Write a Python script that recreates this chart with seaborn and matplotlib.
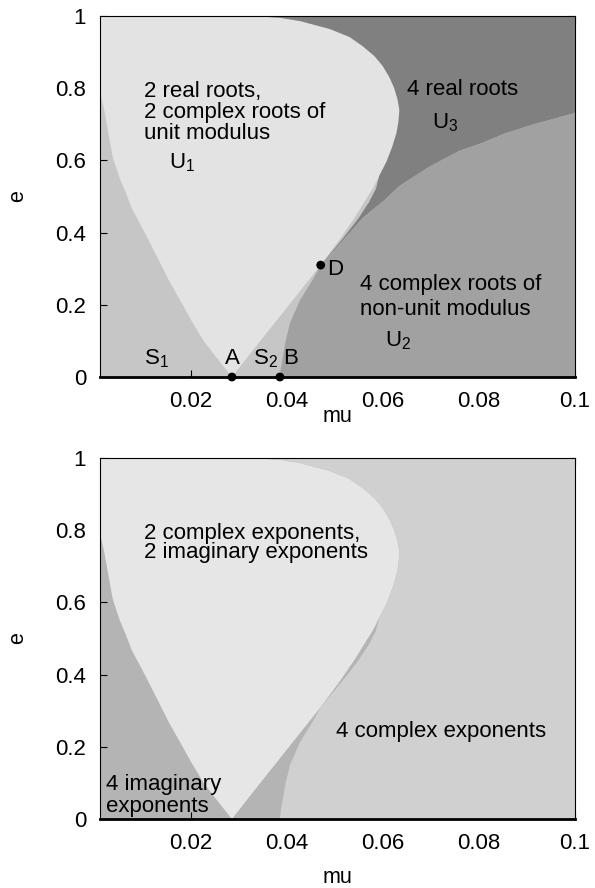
import matplotlib
matplotlib.use("Agg")
import matplotlib.pyplot as plt
import seaborn as sns
import pandas as pd

# ---- boundary curves (mu, e) ----
# left boundary of the light region (from A up to the left edge)
L_mu = [0.0285, 0.0252, 0.0226, 0.0201, 0.0178, 0.0153, 0.0130, 0.0109, 0.0095,
        0.0076, 0.0064, 0.0051, 0.0037, 0.0027, 0.0018, 0.0010]
L_e = [0.000, 0.055, 0.100, 0.155, 0.210, 0.269, 0.330, 0.385, 0.421,
       0.468, 0.510, 0.551, 0.607, 0.679, 0.745, 0.790]
# right boundary of the light region (from A, through D, up to the top)
R_mu = [0.0285, 0.0331, 0.0379, 0.0425, 0.0470, 0.0509, 0.0540, 0.0561, 0.0578,
        0.0592, 0.0607, 0.0619, 0.0628, 0.0632, 0.0634, 0.0630, 0.0623, 0.0613,
        0.0599, 0.0582, 0.0557, 0.0530, 0.0489, 0.0427, 0.0385, 0.0325]
R_e = [0.000, 0.078, 0.158, 0.235, 0.310, 0.380, 0.440, 0.485, 0.521,
       0.557, 0.596, 0.637, 0.676, 0.706, 0.740, 0.770, 0.801, 0.831,
       0.862, 0.889, 0.917, 0.942, 0.964, 0.986, 0.995, 1.000]
# boundary from B up to D
E_mu = [0.0385, 0.0387, 0.0391, 0.0397, 0.0406, 0.0427, 0.0454, 0.0470]
E_e = [0.000, 0.025, 0.055, 0.100, 0.150, 0.213, 0.271, 0.310]
# thin sliver boundary above D (left edge of U3) until it joins the light region
F_mu = [0.0470, 0.0514, 0.0549, 0.0571, 0.0585]
F_e = [0.310, 0.380, 0.440, 0.485, 0.521]
# boundary between U2 and U3 (from D to the right edge)
C_mu = [0.0470, 0.0499, 0.0530, 0.0557, 0.0603, 0.0634, 0.0696, 0.0758, 0.0806,
        0.0851, 0.0909, 0.0955, 0.1000]
C_e = [0.310, 0.352, 0.399, 0.440, 0.490, 0.529, 0.582, 0.626, 0.648,
       0.673, 0.698, 0.715, 0.731]

# special points
pt_names = ["A", "B", "D"]
pt_mu = [0.0285, 0.0385, 0.0470]
pt_e = [0.0, 0.0, 0.310]

x_ticks = [0.02, 0.04, 0.06, 0.08, 0.1]
x_tick_labels = ["0.02", "0.04", "0.06", "0.08", "0.1"]
y_ticks = [0, 0.2, 0.4, 0.6, 0.8, 1.0]
y_tick_labels = ["0", "0.2", "0.4", "0.6", "0.8", "1"]

XMIN, XMAX = 0.001, 0.1

sns.set_theme(style="ticks")
plt.rcParams["font.family"] = ["Liberation Sans", "DejaVu Sans"]
plt.rcParams["mathtext.fontset"] = "custom"
plt.rcParams["mathtext.rm"] = "Liberation Sans"
plt.rcParams["text.color"] = "black"
plt.rcParams["axes.labelcolor"] = "black"
plt.rcParams["xtick.color"] = "black"
plt.rcParams["ytick.color"] = "black"

FS = 16
FS_LAB = 15.5

fig = plt.figure(figsize=(5.95, 8.88), dpi=100)
ax1 = fig.add_axes([100 / 595, 1 - 377 / 888, 475 / 595, 361 / 888])
ax2 = fig.add_axes([100 / 595, 1 - 819 / 888, 475 / 595, 361 / 888])

iJ = R_e.index(0.557)  # where the sliver rejoins the light region

def light_poly():
    mu = R_mu + [XMIN, XMIN] + L_mu[::-1]
    e = R_e + [1.0, L_e[-1]] + L_e[::-1]
    return mu, e

# ---------------- top panel ----------------
ax1.set_facecolor("#c6c6c6")
m, e = light_poly()
ax1.fill(m, e, color="#e3e3e3", lw=0)
# U3
m = F_mu + R_mu[iJ:] + [XMAX, XMAX] + C_mu[::-1]
e = F_e + R_e[iJ:] + [1.0, C_e[-1]] + C_e[::-1]
ax1.fill(m, e, color="#808080", lw=0)
# U2
m = E_mu + C_mu[1:] + [XMAX]
e = E_e + C_e[1:] + [0.0]
ax1.fill(m, e, color="#a1a1a1", lw=0)

pts = pd.DataFrame({"mu": pt_mu, "e": pt_e, "name": pt_names})
sns.scatterplot(data=pts, x="mu", y="e", ax=ax1, color="black", s=40,
                edgecolor="none", clip_on=False, zorder=5, legend=False)

ax1.text(0.0101, 0.776, "2 real roots,", fontsize=FS)
ax1.text(0.0101, 0.717, "2 complex roots of", fontsize=FS)
ax1.text(0.0101, 0.659, "unit modulus", fontsize=FS)
ax1.text(0.0153, 0.579, r"$\mathregular{U_1}$", fontsize=FS)
ax1.text(0.0650, 0.781, "4 real roots", fontsize=FS)
ax1.text(0.0702, 0.690, r"$\mathregular{U_3}$", fontsize=FS)
ax1.text(0.0551, 0.241, "4 complex roots of", fontsize=FS)
ax1.text(0.0551, 0.172, "non-unit modulus", fontsize=FS)
ax1.text(0.0603, 0.084, r"$\mathregular{U_2}$", fontsize=FS)
ax1.text(0.0101, 0.036, r"$\mathregular{S_1}$", fontsize=FS)
ax1.text(0.0285, 0.036, "A", fontsize=FS, ha="center")
ax1.text(0.0329, 0.036, r"$\mathregular{S_2}$", fontsize=FS)
ax1.text(0.0391, 0.036, "B", fontsize=FS)
ax1.text(0.0484, 0.283, "D", fontsize=FS)

# ---------------- bottom panel ----------------
ax2.set_facecolor("#b4b4b4")
m, e = light_poly()
ax2.fill(m, e, color="#e6e6e6", lw=0)
m = E_mu + F_mu[1:] + R_mu[iJ:] + [XMAX, XMAX]
e = E_e + F_e[1:] + R_e[iJ:] + [1.0, 0.0]
ax2.fill(m, e, color="#d0d0d0", lw=0)

ax2.text(0.0101, 0.777, "2 complex exponents,", fontsize=FS)
ax2.text(0.0101, 0.722, "2 imaginary exponents", fontsize=FS)
ax2.text(0.0501, 0.227, "4 complex exponents", fontsize=FS)
ax2.text(0.0022, 0.080, "4 imaginary", fontsize=FS)
ax2.text(0.0022, 0.020, "exponents", fontsize=FS)

for ax in (ax1, ax2):
    ax.set_xlim(XMIN, XMAX)
    ax.set_ylim(0, 1)
    ax.set_xticks(x_ticks)
    ax.set_xticklabels(x_tick_labels)
    ax.set_yticks(y_ticks)
    ax.set_yticklabels(y_tick_labels)
    ax.tick_params(direction="in", top=True, right=True, length=5, width=0.8,
                   labelsize=FS, pad=10, colors="black")
    for s in ax.spines.values():
        s.set_visible(True)
        s.set_color("black")
        s.set_linewidth(0.8)
    ax.spines["bottom"].set_linewidth(2.0)
    ax.set_xlabel("mu", fontsize=FS_LAB)
    ax.set_ylabel("e", fontsize=FS_LAB)
    ax.yaxis.set_label_coords(-0.152, 0.5)

ax1.xaxis.set_label_coords(0.5, -0.080)
ax2.xaxis.set_label_coords(0.5, -0.133)

fig.savefig("out.png", dpi=100)
